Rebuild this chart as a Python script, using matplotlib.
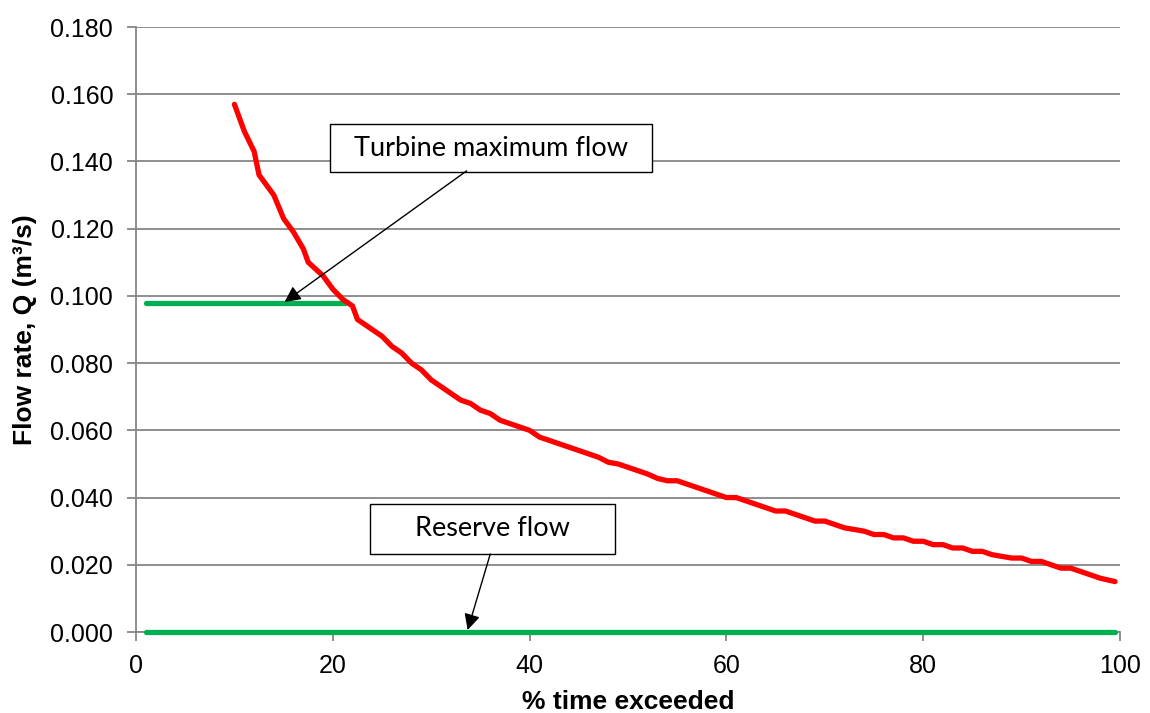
import matplotlib.pyplot as plt
import matplotlib.patches as patches

# flow duration curve readings
pct_exceeded = [10, 11, 12, 12.5, 14, 15, 16, 17, 17.5, 19, 20, 21, 22, 22.5, 24, 25,
                26, 27, 28, 29, 30, 31, 32, 33, 34, 35, 36, 37, 38, 39, 40, 41, 42, 43,
                44, 45, 46, 47, 48, 49, 50, 51, 52, 53, 54, 55, 56, 57, 58, 59, 60, 61,
                62, 63, 64, 65, 66, 67, 68, 69, 70, 71, 72, 73, 74, 75, 76, 77, 78, 79,
                80, 81, 82, 83, 84, 85, 86, 87, 88, 89, 90, 91, 92, 93, 94, 95, 96, 97,
                98, 99.5]
flow = [0.157, 0.149, 0.143, 0.136, 0.130, 0.123, 0.119, 0.114, 0.110, 0.106, 0.102,
        0.099, 0.097, 0.093, 0.090, 0.088, 0.085, 0.083, 0.080, 0.078, 0.075, 0.073,
        0.071, 0.069, 0.068, 0.066, 0.065, 0.063, 0.062, 0.061, 0.060, 0.058, 0.057,
        0.056, 0.055, 0.054, 0.053, 0.052, 0.0505, 0.050, 0.049, 0.048, 0.047, 0.0457,
        0.045, 0.045, 0.044, 0.043, 0.042, 0.041, 0.040, 0.040, 0.039, 0.038, 0.037,
        0.036, 0.036, 0.035, 0.034, 0.033, 0.033, 0.032, 0.031, 0.0305, 0.030, 0.029,
        0.029, 0.028, 0.028, 0.027, 0.027, 0.026, 0.026, 0.025, 0.025, 0.024, 0.024,
        0.023, 0.0225, 0.022, 0.022, 0.021, 0.021, 0.020, 0.019, 0.019, 0.018, 0.017,
        0.016, 0.015]

turbine_x = [1, 21.2]
turbine_q = [0.098, 0.098]
reserve_x = [1, 99.5]
reserve_q = [0.0, 0.0]

red = '#ff0000'
green = '#00b050'
grid_gray = '#868686'

plt.rcParams['font.family'] = ['Liberation Sans', 'DejaVu Sans']

fig = plt.figure(figsize=(11.5, 7.13), dpi=100)
ax = fig.add_axes([0.1183, 0.1136, 0.8556, 0.8485])

ax.plot(turbine_x, turbine_q, color=green, lw=3.8, solid_capstyle='round', zorder=3)
ax.plot(reserve_x, reserve_q, color=green, lw=3.8, solid_capstyle='round', zorder=3,
        clip_on=False)
ax.plot(pct_exceeded, flow, color=red, lw=3.8, solid_capstyle='round',
        solid_joinstyle='round', zorder=4)

ax.set_xlim(0, 100)
ax.set_ylim(0, 0.18)
ax.set_xticks(range(0, 101, 20))
ax.set_yticks([i * 0.02 for i in range(10)])
ax.set_yticklabels([f'{i * 0.02:.3f}' for i in range(10)])
ax.grid(axis='y', color=grid_gray, lw=1.3)
ax.set_axisbelow(True)

for s in ['top', 'right']:
    ax.spines[s].set_visible(False)
for s in ['left', 'bottom']:
    ax.spines[s].set_color(grid_gray)
    ax.spines[s].set_linewidth(1.3)
ax.tick_params(axis='both', colors=grid_gray, length=6.5, width=1.3, labelsize=18,
               labelcolor='black', direction='out')
ax.tick_params(axis='y', pad=10)
ax.tick_params(axis='x', pad=9)

ax.set_xlabel('% time exceeded', fontsize=19, fontweight='bold', va='baseline')
ax.set_ylabel('Flow rate, Q (m\u00b3/s)', fontsize=19, fontweight='bold', va='center')
ax.xaxis.set_label_coords(0.5, -0.127)
ax.yaxis.set_label_coords(-0.113, 0.5)

# callout boxes with arrows
callouts = [
    ('Turbine maximum flow', (19.7, 0.1369), (52.4, 0.1511), (33.6, 0.1372), (15.1, 0.0982)),
    ('Reserve flow', (23.8, 0.0232), (48.7, 0.0381), (36.0, 0.0232), (33.7, 0.0006)),
]
for label, (x0, y0), (x1, y1), start, tip in callouts:
    ax.add_patch(patches.Rectangle((x0, y0), x1 - x0, y1 - y0, facecolor='white',
                                   edgecolor='black', lw=1, zorder=5))
    ax.text((x0 + x1) / 2, (y0 + y1) / 2, label, ha='center', va='center',
            fontsize=19.5, family=['Lato', 'DejaVu Sans'], zorder=6)
    ax.annotate('', xy=tip, xytext=start, zorder=5,
                arrowprops=dict(arrowstyle='-|>', color='black', lw=1,
                                mutation_scale=24, shrinkA=0, shrinkB=0))

fig.savefig('out.png', dpi=100, facecolor='white')
